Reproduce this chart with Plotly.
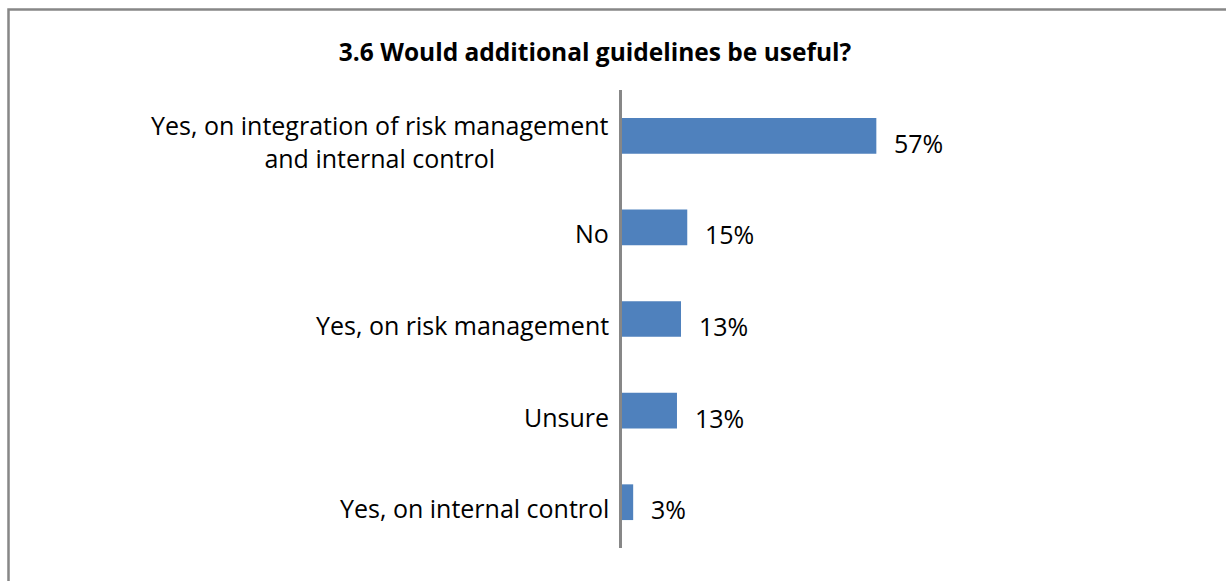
import plotly.graph_objects as go

title_text = "3.6 Would additional guidelines be useful?"
categories = [
    "Yes, on integration of risk management<br>and internal control",
    "No",
    "Yes, on risk management",
    "Unsure",
    "Yes, on internal control",
]
values = [56.9, 14.6, 13.2, 12.3, 2.5]
value_labels = ["57%", "15%", "13%", "13%", "3%"]

W, H = 1226, 581
PL, PR, PT, PB = 622, 1069, 90, 548  # plot area in pixels
FONT = "Open Sans"
BAR_COLOR = "#4f81bd"
GRAY = "#878787"

fig = go.Figure()
fig.add_trace(go.Bar(
    x=values, y=categories, orientation="h",
    marker=dict(color=BAR_COLOR, line=dict(width=0)),
    width=0.39, hoverinfo="skip",
))

ann = []
for c, v, lab in zip(categories, values, value_labels):
    ann.append(dict(x=v, y=c, xref="x", yref="y", text=lab, showarrow=False,
                    xanchor="left", xshift=16, yshift=-7,
                    font=dict(family=FONT, size=25, color="#000")))
    ann.append(dict(x=0, y=c, xref="paper", yref="y", text=c, showarrow=False,
                    xanchor="right", align="center", xshift=-11, yshift=-6,
                    font=dict(family=FONT, size=25, color="#000")))

pw = PR - PL
ph = PB - PT
def px_x(p):
    return (p - PL) / pw
def px_y(p):
    return (PB - p) / ph

fig.update_layout(
    width=W, height=H,
    margin=dict(l=PL, r=W - PR, t=PT, b=H - PB, pad=0),
    paper_bgcolor="white", plot_bgcolor="white",
    showlegend=False,
    title=dict(text="<b>" + title_text + "</b>", x=595 / W, xanchor="center",
               y=1 - 52 / H, yanchor="middle",
               font=dict(family=FONT, size=24.5, color="#000")),
    xaxis=dict(range=[0, 100], showgrid=False, zeroline=False, showline=False,
               showticklabels=False, ticks=""),
    yaxis=dict(autorange="reversed", showgrid=False, zeroline=False,
               showline=True, linecolor=GRAY, linewidth=2.5,
               showticklabels=False, ticks=""),
    annotations=ann,
    shapes=[dict(type="rect", xref="paper", yref="paper",
                 x0=px_x(8.5), x1=px_x(W + 20), y0=px_y(H + 20), y1=px_y(9.5),
                 line=dict(color=GRAY, width=2.5), fillcolor="rgba(0,0,0,0)",
                 layer="below")],
)

fig.write_html("out.html", config={"displayModeBar": False},
               post_script="document.body.style.margin='0';document.body.style.overflow='hidden';")
